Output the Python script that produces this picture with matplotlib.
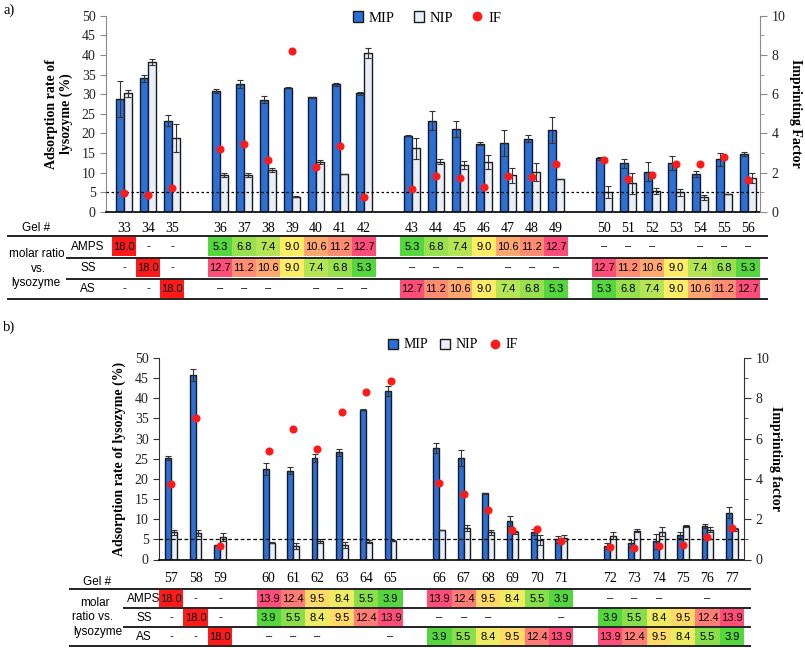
import matplotlib
matplotlib.use('Agg')
import matplotlib.pyplot as plt
import numpy as np
from matplotlib.patches import Rectangle, Patch
from matplotlib.lines import Line2D
from matplotlib.colors import LinearSegmentedColormap

# ---------------- data: panel a ----------------
gels_a = list(range(33, 57))
group_sizes_a = [3, 7, 7, 7]
mip_a = [28.8, 34.1, 23.3, 30.8, 32.6, 28.6, 31.7, 29.2, 32.5, 30.2,
         19.4, 23.3, 21.2, 17.4, 17.6, 18.7, 20.9,
         13.7, 12.4, 10.3, 12.4, 9.7, 13.4, 14.7]
mip_a_err = [4.5, 0.9, 1.4, 0.6, 1.0, 0.9, 0.2, 0.1, 0.3, 0.3,
             0.1, 2.3, 2.0, 0.4, 3.3, 0.9, 3.3,
             0.4, 1.2, 2.4, 1.8, 0.8, 1.7, 0.5]
nip_a = [30.2, 38.2, 18.8, 9.4, 9.4, 10.7, 3.9, 12.7, 9.7, 40.6,
         16.2, 12.8, 12.0, 12.8, 9.3, 10.1, 8.4,
         5.0, 7.3, 5.4, 5.0, 3.7, 4.6, 8.7]
nip_a_err = [0.8, 0.7, 3.6, 0.5, 0.5, 0.6, 0.1, 0.6, 0.0, 1.3,
             2.6, 0.7, 1.1, 1.8, 2.0, 2.3, 0.1,
             1.5, 2.7, 0.8, 0.9, 0.6, 0.1, 1.2]
if_a = [0.95, 0.88, 1.24, 3.23, 3.46, 2.65, 8.19, 2.28, 3.35, 0.75,
        1.17, 1.81, 1.74, 1.29, 1.81, 1.79, 2.43,
        2.66, 1.66, 1.86, 2.45, 2.45, 2.79, 1.64]
amps_a = ["18.0", "-", "-", "5.3", "6.8", "7.4", "9.0", "10.6", "11.2", "12.7",
          "5.3", "6.8", "7.4", "9.0", "10.6", "11.2", "12.7",
          "–", "–", "–", "", "–", "–", "–"]
ss_a = ["-", "18.0", "-", "12.7", "11.2", "10.6", "9.0", "7.4", "6.8", "5.3",
        "–", "–", "–", "", "–", "–", "–",
        "12.7", "11.2", "10.6", "9.0", "7.4", "6.8", "5.3"]
as_a = ["-", "-", "18.0", "–", "–", "–", "", "–", "–", "–",
        "12.7", "11.2", "10.6", "9.0", "7.4", "6.8", "5.3",
        "5.3", "6.8", "7.4", "9.0", "10.6", "11.2", "12.7"]

# ---------------- data: panel b ----------------
gels_b = list(range(57, 78))
group_sizes_b = [3, 6, 6, 6]
mip_b = [25.3, 45.8, 3.6, 22.5, 22.0, 25.3, 26.6, 37.2, 41.8,
         27.6, 25.1, 16.4, 9.6, 6.9, 5.0,
         3.4, 4.0, 4.5, 6.0, 8.3, 11.6]
mip_b_err = [0.5, 1.4, 0.1, 1.5, 0.9, 1.0, 0.8, 0.2, 1.2,
             1.2, 2.0, 0.1, 1.2, 0.7, 0.8,
             0.7, 0.8, 1.8, 0.7, 0.5, 1.4]
nip_b = [6.7, 6.5, 5.5, 4.2, 3.4, 4.6, 3.6, 4.4, 4.7,
         7.3, 7.8, 6.7, 6.7, 4.8, 5.3,
         5.9, 7.1, 6.9, 8.3, 7.4, 7.5]
nip_b_err = [0.6, 0.7, 1.0, 0.1, 0.8, 0.5, 0.8, 0.4, 0.1,
             0.1, 0.7, 0.7, 0.4, 1.2, 0.8,
             0.8, 0.4, 1.1, 0.3, 0.7, 0.4]
if_b = [3.74, 7.0, 0.65, 5.4, 6.5, 5.47, 7.3, 8.3, 8.85,
        3.82, 3.24, 2.45, 1.45, 1.5, 0.94,
        0.6, 0.56, 0.66, 0.74, 1.14, 1.55]
amps_b = ["18.0", "-", "-", "13.9", "12.4", "9.5", "8.4", "5.5", "3.9",
          "13.9", "12.4", "9.5", "8.4", "5.5", "3.9",
          "–", "–", "–", "", "–", ""]
ss_b = ["-", "18.0", "-", "3.9", "5.5", "8.4", "9.5", "12.4", "13.9",
        "–", "–", "–", "", "", "–",
        "3.9", "5.5", "8.4", "9.5", "12.4", "13.9"]
as_b = ["-", "-", "18.0", "–", "–", "–", "", "", "–",
        "3.9", "5.5", "8.4", "9.5", "12.4", "13.9",
        "13.9", "12.4", "9.5", "8.4", "5.5", "3.9"]
row_names = ["AMPS", "SS", "AS"]

# ---------------- style ----------------
W, H = 805, 648
SERIF = ['Liberation Serif', 'DejaVu Serif']
SANS = ['Liberation Sans', 'DejaVu Sans']
BLUE = '#2b6fd9'
LIGHT = '#e8eff9'
EDGE = '#1a1a1a'
RED = '#ff1a1a'
cmap = LinearSegmentedColormap.from_list('ratio', ['#55d63f', '#ffee66', '#ff4d7a'])

plt.rcParams['font.family'] = SERIF

fig = plt.figure(figsize=(W / 100, H / 100), dpi=100)


def rect(l, t, r, b):
    return [l / W, 1 - b / H, (r - l) / W, (b - t) / H]


def fx(x):
    return x / W


def fy(y):
    return 1 - y / H


def slot_positions(sizes):
    # categories on a regular grid, one empty slot between groups
    pos, s = [], 0
    for n in sizes:
        for _ in range(n):
            pos.append(s)
            s += 1
        s += 1
    return np.array(pos, dtype=float)


def hline(y, x0, x1, lw=1.4):
    fig.add_artist(Line2D([fx(x0), fx(x1)], [fy(y), fy(y)], transform=fig.transFigure,
                          color='#222222', lw=lw))


def draw_chart(box, x, gels, mip, mip_err, nip, nip_err, imf, xlim, width, off,
               ylabel, y2label, spine_col, dash, lpad, r_labelpad):
    ax = fig.add_axes(rect(*box))
    ax.bar(x - off, mip, width, color=BLUE, edgecolor=EDGE, lw=1.0, zorder=2)
    ax.bar(x + off, nip, width, color=LIGHT, edgecolor=EDGE, lw=1.0, zorder=2)
    ax.errorbar(x - off, mip, yerr=mip_err, fmt='none', ecolor='#333333',
                elinewidth=0.8, capsize=2, capthick=0.8, zorder=3)
    ax.errorbar(x + off, nip, yerr=nip_err, fmt='none', ecolor='#333333',
                elinewidth=0.8, capsize=2, capthick=0.8, zorder=3)
    ax.axhline(5, color='black', lw=0.9, ls=dash, zorder=4)
    ax.set_xlim(*xlim)
    ax.set_ylim(0, 50)
    ax.set_yticks(np.arange(0, 51, 5))
    ax.set_xticks(x)
    ax.set_xticklabels([str(g) for g in gels])
    ax.tick_params(axis='x', length=0, pad=lpad, labelsize=10)
    ax.tick_params(axis='y', direction='out', length=4, color=spine_col,
                   labelsize=10, labelcolor='#222222')
    ax.spines['top'].set_visible(False)
    ax.spines['left'].set_color(spine_col)
    ax.spines['right'].set_visible(False)
    ax.spines['bottom'].set_color('black')
    ax.spines['bottom'].set_linewidth(1.2)
    ax.set_ylabel(ylabel, fontsize=10, fontweight='bold', labelpad=6)

    ax2 = ax.twinx()
    ax2.set_ylim(0, 10)
    ax2.set_yticks(np.arange(0, 11, 2))
    ax2.set_yticks(np.arange(1, 10, 2), minor=True)
    ax2.scatter(x, imf, s=34, color=RED, zorder=5, linewidths=0)
    for s in ['top', 'left', 'bottom']:
        ax2.spines[s].set_visible(False)
    ax2.spines['right'].set_color(spine_col)
    ax2.tick_params(axis='y', which='major', direction='out', length=5,
                    color=spine_col, labelsize=10, labelcolor='#222222')
    ax2.tick_params(axis='y', which='minor', direction='out', length=3, color=spine_col)
    ax2.set_ylabel(y2label, fontsize=10, fontweight='bold', rotation=270,
                   labelpad=r_labelpad)
    return ax, ax2


def draw_table(box, x, xlim, rows, vmin, vmax):
    tab = fig.add_axes(rect(*box))
    tab.set_xlim(*xlim)
    tab.set_ylim(3, 0)
    tab.axis('off')
    for r, row in enumerate(rows):
        for xi, val in zip(x, row):
            if val in ('-', '–', ''):
                if val:
                    tab.text(xi, r + 0.5, val, ha='center', va='center',
                             family=SANS, fontsize=8, color='black')
                continue
            v = float(val)
            if v >= 18:
                col = RED
            else:
                col = cmap((v - vmin) / (vmax - vmin))
            tab.add_patch(Rectangle((xi - 0.5, r + 0.04), 1, 0.92, facecolor=col,
                                    edgecolor='none'))
            tab.text(xi, r + 0.53, val, ha='center', va='center',
                     family=SANS, fontsize=8, color='black')
    return tab


def legend(cx, cy, spacing, size):
    handles = [Patch(facecolor=BLUE, edgecolor=EDGE, lw=1.0),
               Patch(facecolor=LIGHT, edgecolor=EDGE, lw=1.0),
               Line2D([], [], ls='none', marker='o', color=RED, markersize=6)]
    fig.legend(handles, ['MIP', 'NIP', 'IF'], loc='center', ncol=3,
               bbox_to_anchor=(fx(cx), fy(cy)), frameon=False,
               handlelength=0.7, handleheight=0.7, handletextpad=0.4,
               columnspacing=spacing, prop={'family': SERIF, 'size': size})


# ---------------- panel a ----------------
xa = slot_positions(group_sizes_a)
xlim_a = (-0.75, xa[-1] + 0.5)
draw_chart((106, 15.7, 760, 212), xa, gels_a, mip_a, mip_a_err, nip_a, nip_a_err,
           if_a, xlim_a, 0.34, 0.18, 'Adsorption rate of\nlysozyme (%)',
           'Imprinting Factor', '#8a8a8a', (0, (2, 2)), 7, 12)
legend(427, 18, 1.3, 10.5)
draw_table((106, 236, 760, 299), xa, xlim_a, [amps_a, ss_a, as_a], 5.3, 12.7)
hline(236, 8, 767)
hline(257.5, 67, 767)
hline(278.5, 67, 767)
hline(299, 8, 767)
fig.text(fx(36), fy(228), 'Gel #', ha='center', va='center', family=SANS, fontsize=8.5)
for yy, name in zip([247, 268, 289], row_names):
    fig.text(fx(88), fy(yy), name, ha='center', va='center', family=SANS, fontsize=8.5)
fig.text(fx(37), fy(254), 'molar ratio', ha='center', va='center', family=SANS, fontsize=8.5)
fig.text(fx(38), fy(269), 'vs.', ha='center', va='center', family=SANS, fontsize=8.5)
fig.text(fx(36), fy(283), 'lysozyme', ha='center', va='center', family=SANS, fontsize=8.5)
fig.text(fx(3), fy(10), 'a)', ha='left', va='center', family=SERIF, fontsize=10.5)

# ---------------- panel b ----------------
xb = slot_positions(group_sizes_b)
xlim_b = (-0.5, xb[-1] + 0.5)
draw_chart((159, 358, 744, 559.5), xb, gels_b, mip_b, mip_b_err, nip_b, nip_b_err,
           if_b, xlim_b, 0.24, 0.12, 'Adsorption rate of lysozyme (%)',
           'Imprinting factor', '#333333', (0, (3, 2)), 9, 9)
legend(453, 345, 0.9, 10)
draw_table((159, 589, 744, 646), xb, xlim_b, [amps_b, ss_b, as_b], 3.9, 13.9)
hline(589, 70, 750)
hline(608, 124, 750)
hline(627, 124, 750)
hline(646, 70, 750)
fig.text(fx(97), fy(582), 'Gel #', ha='center', va='center', family=SANS, fontsize=8.5)
for yy, name in zip([599, 618, 637], row_names):
    fig.text(fx(144), fy(yy), name, ha='center', va='center', family=SANS, fontsize=8.5)
fig.text(fx(95), fy(603), 'molar', ha='center', va='center', family=SANS, fontsize=8.5)
fig.text(fx(93), fy(617), 'ratio vs.', ha='center', va='center', family=SANS, fontsize=8.5)
fig.text(fx(98), fy(632), 'lysozyme', ha='center', va='center', family=SANS, fontsize=8.5)
fig.text(fx(3), fy(327), 'b)', ha='left', va='center', family=SERIF, fontsize=10.5)

fig.savefig('out.png', dpi=100)
